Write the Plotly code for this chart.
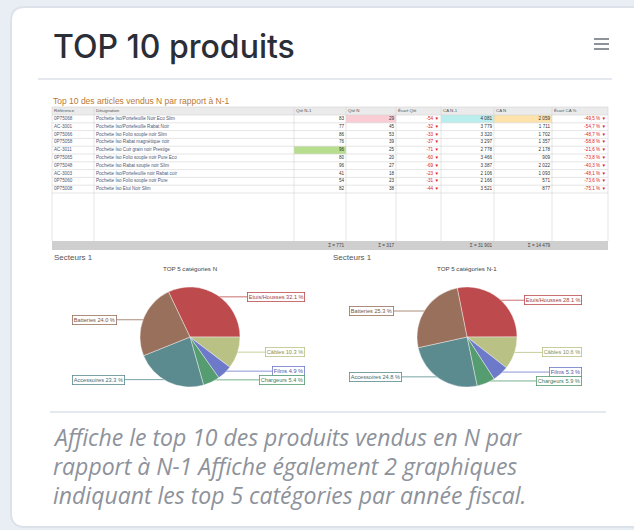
import math
import plotly.graph_objects as go

W, H = 634, 530

# ---------------- data ----------------
col_headers = ["Référence", "Désignation", "Qté N-1", "Qté N", "Écart Qté", "CA N-1", "CA N", "Écart CA %"]
references = ["0P75068", "AC-3001", "0P75066", "0P75058", "AC-3011", "0P75065", "0P75048", "AC-3003", "0P75060", "0P75008"]
designations = [
    "Pochette Iso/Portefeuille Noir Eco Slim",
    "Pochette Iso/Portefeuille Rabat Noir",
    "Pochette Iso Folio souple noir Slim",
    "Pochette Iso Rabat magnétique noir",
    "Pochette Iso Cuir grain noir Prestige",
    "Pochette Iso Folio souple noir Pure Eco",
    "Pochette Iso Rabat souple noir Slim",
    "Pochette Iso/Portefeuille noir Rabat cuir",
    "Pochette Iso Folio souple noir Pure",
    "Pochette Iso Etui Noir Slim",
]
qte_n1 = [83, 77, 86, 76, 96, 80, 96, 41, 54, 82]
qte_n = [29, 45, 53, 39, 25, 20, 27, 18, 23, 38]
ecart_qte = [-54, -32, -33, -37, -71, -60, -69, -23, -31, -44]
ca_n1 = [4081, 3779, 3320, 3297, 2778, 3466, 3387, 2106, 2166, 3521]
ca_n = [2059, 1711, 1702, 1357, 2178, 909, 2022, 1093, 571, 877]
ecart_ca = [-49.5, -54.7, -48.7, -58.8, -21.6, -73.8, -40.3, -48.1, -73.6, -75.1]

categories = ["Etuis/Housses", "Câbles", "Films", "Chargeurs", "Accessoires", "Batteries"]
share_n = [32.1, 10.3, 4.9, 5.4, 23.3, 24.0]
share_n1 = [28.1, 10.6, 5.3, 5.9, 24.8, 25.3]

# ---------------- styles ----------------
slice_colors = ["#bd4b4e", "#b9c184", "#6d79c9", "#559c70", "#5b8a8f", "#98705b"]
label_colors = ["#a53e41", "#8a9150", "#4a56aa", "#3d7c55", "#426e73", "#7a5643"]
page_bg = "#e9edf4"
col_px = [42, 200, 52, 50, 45, 53, 58, 56]
col_align = ["left", "left", "right", "right", "right", "right", "right", "right"]
col_font = ["#4a5a78", "#4a5a78", "#333333", "#333333", "#e0201c", "#333333", "#333333", "#e0201c"]
tbl_left, head_top, head_h, row_h = 52, 107, 8, 7.8
body_bottom, foot_h = 241, 9
FONT = "Liberation Sans"


def fr(v):
    return f"{v:,}".replace(",", " ")


fig = go.Figure()
shapes = []
annotations = []


def line(x0, y0, x1, y1, color, width, layer="above"):
    shapes.append(dict(type="line", xref="x", yref="y", x0=x0, y0=y0, x1=x1, y1=y1,
                       line=dict(color=color, width=width), layer=layer))


def rect(x0, y0, x1, y1, fill, layer="below"):
    shapes.append(dict(type="rect", xref="x", yref="y", x0=x0, y0=y0, x1=x1, y1=y1,
                       fillcolor=fill, line=dict(width=0), layer=layer))


# ---------------- card ----------------
def rounded(x0, y0, x1, y1, r):
    return (f"M {x0 + r},{y0} L {x1 - r},{y0} Q {x1},{y0} {x1},{y0 + r} "
            f"L {x1},{y1 - r} Q {x1},{y1} {x1 - r},{y1} "
            f"L {x0 + r},{y1} Q {x0},{y1} {x0},{y1 - r} "
            f"L {x0},{y0 + r} Q {x0},{y0} {x0 + r},{y0} Z")


shapes.append(dict(type="path", xref="x", yref="y", path=rounded(10, 6, 652, 528, 15),
                   fillcolor="#dde2ea", line=dict(width=0), layer="below"))
shapes.append(dict(type="path", xref="x", yref="y", path=rounded(12, 8, 650, 526, 13),
                   fillcolor="#ffffff", line=dict(width=0), layer="below"))
line(38, 79, 612, 79, "#dde2ea", 1.5, "below")
line(50, 412, 606, 412, "#dde2ea", 1.5, "below")
for hy in (39, 44, 49):
    line(594, hy, 609, hy, "#8d929b", 2)

# ---------------- table ----------------
bounds = [tbl_left]
for w in col_px:
    bounds.append(bounds[-1] + w)
n_rows = len(references)
rows_top = head_top + head_h
row_tops = [rows_top + i * row_h for i in range(n_rows + 1)]

rect(bounds[0], head_top, bounds[-1], rows_top, "#ebebeb")
rect(bounds[0], body_bottom, bounds[-1], body_bottom + foot_h, "#cfcfcf")

highlights = [(2, 4, "#b7dd8f"), (3, 0, "#f9cdd3"), (5, 0, "#baeeee"), (6, 0, "#fde2ac")]
for c, r, colr in highlights:
    rect(bounds[c], row_tops[r], bounds[c + 1], row_tops[r + 1], colr)

for yt in [head_top] + row_tops:
    line(bounds[0], yt, bounds[-1], yt, "#d4d4d4", 0.6, "below")
for b in bounds:
    line(b, head_top, b, body_bottom, "#d4d4d4", 0.6, "below")

cell_values = [
    references,
    designations,
    [str(v) for v in qte_n1],
    [str(v) for v in qte_n],
    [f"{v} ▼" for v in ecart_qte],
    [fr(v) for v in ca_n1],
    [fr(v) for v in ca_n],
    [f"{v:.1f} % ▼".replace(".", ",") for v in ecart_ca],
]
row_mid = [rows_top + (i + 0.5) * row_h for i in range(n_rows)]
for c, vals in enumerate(cell_values):
    left = col_align[c] == "left"
    xs = [bounds[c] + 2 if left else bounds[c + 1] - 2] * n_rows
    fig.add_trace(go.Scatter(
        x=xs, y=row_mid, mode="text", text=vals,
        textposition="middle right" if left else "middle left",
        textfont=dict(size=4.6, color=col_font[c], family=FONT),
        hoverinfo="skip", showlegend=False, cliponaxis=False,
    ))
# header
fig.add_trace(go.Scatter(
    x=[b + 2 for b in bounds[:-1]], y=[head_top + head_h / 2] * len(col_headers),
    mode="text", text=col_headers, textposition="middle right",
    textfont=dict(size=4.4, color="#555555", family=FONT),
    hoverinfo="skip", showlegend=False, cliponaxis=False,
))
# footer sums
footer_vals = ["", "", f"Σ = {fr(sum(qte_n1))}", f"Σ = {fr(sum(qte_n))}", "",
               f"Σ = {fr(sum(ca_n1))}", f"Σ = {fr(sum(ca_n))}", ""]
fig.add_trace(go.Scatter(
    x=[b - 2 for b in bounds[1:]], y=[body_bottom + foot_h / 2] * len(col_headers),
    mode="text", text=footer_vals, textposition="middle left",
    textfont=dict(size=4.6, color="#444444", family=FONT),
    hoverinfo="skip", showlegend=False, cliponaxis=False,
))

annotations.append(dict(xref="x", yref="y", x=51, y=101, showarrow=False,
                        xanchor="left", yanchor="middle",
                        text="Top 10 des articles vendus N par rapport à N-1",
                        font=dict(size=8.5, color="#b97a35", family=FONT)))

# ---------------- pies ----------------
pies = [
    dict(values=share_n, cx=190, cy=337, r=50, rot=-25.5, title="TOP 5 catégories N", sect="Secteurs 1", sx=52),
    dict(values=share_n1, cx=467, cy=337, r=50, rot=-11.3, title="TOP 5 catégories N-1", sect="Secteurs 1", sx=331),
]
for p in pies:
    fig.add_trace(go.Pie(
        labels=categories, values=p["values"], sort=False, direction="clockwise",
        rotation=p["rot"], textinfo="none", hoverinfo="label+percent",
        marker=dict(colors=slice_colors, line=dict(color="#ffffff", width=0.4)),
        domain=dict(x=[(p["cx"] - p["r"]) / W, (p["cx"] + p["r"]) / W],
                    y=[1 - (p["cy"] + p["r"]) / H, 1 - (p["cy"] - p["r"]) / H]),
        showlegend=False,
    ))
    total = sum(p["values"])
    acc = 0.0
    for i, v in enumerate(p["values"]):
        mid = p["rot"] + (acc + v / 2) / total * 360
        acc += v
        th = math.radians(mid)
        ex = p["cx"] + p["r"] * 0.95 * math.sin(th)
        ey = p["cy"] - p["r"] * 0.95 * math.cos(th)
        right = math.sin(th) > 0
        lx = p["cx"] + 115 if right else p["cx"] - 118
        line(ex, ey, lx, ey, slice_colors[i], 0.8, "below")
        annotations.append(dict(
            xref="x", yref="y", x=lx, y=ey, showarrow=False,
            xanchor="right" if right else "left", yanchor="middle",
            text=f"{categories[i]} {v:.1f} %",
            font=dict(size=5.6, color=label_colors[i], family=FONT),
            bgcolor="#ffffff", bordercolor=slice_colors[i], borderwidth=0.8, borderpad=1,
        ))
    annotations.append(dict(xref="x", yref="y", x=p["cx"], y=268, showarrow=False,
                            xanchor="center", yanchor="middle", text=p["title"],
                            font=dict(size=6.2, color="#444444", family=FONT)))
    annotations.append(dict(xref="x", yref="y", x=p["sx"], y=257, showarrow=False,
                            xanchor="left", yanchor="middle", text=p["sect"],
                            font=dict(size=8, color="#555555", family=FONT)))

# ---------------- card texts ----------------
annotations.append(dict(xref="x", yref="y", x=51, y=46, showarrow=False,
                        xanchor="left", yanchor="middle", text="TOP 10 produits",
                        font=dict(size=32, color="#2b2e36", family="Inter", weight=500)))
desc_lines = ["Affiche le top 10 des produits vendus en N par",
              "rapport à N-1 Affiche également 2 graphiques",
              "indiquant les top 5 catégories par année fiscal."]
for k, txt in enumerate(desc_lines):
    annotations.append(dict(xref="x", yref="y", x=51, y=437 + 29 * k, showarrow=False,
                            xanchor="left", yanchor="middle", text=txt,
                            font=dict(size=23, color="#8d929b", family="Open Sans", style="italic")))

fig.update_layout(
    width=W, height=H, margin=dict(l=0, r=0, t=0, b=0),
    paper_bgcolor=page_bg, plot_bgcolor="rgba(0,0,0,0)",
    xaxis=dict(range=[0, W], visible=False, fixedrange=True, domain=[0, 1]),
    yaxis=dict(range=[H, 0], visible=False, fixedrange=True, domain=[0, 1]),
    shapes=shapes, annotations=annotations, showlegend=False,
)

fig.write_html("out.html", config={"displayModeBar": False},
               post_script="document.body.style.margin='0';document.body.style.overflow='hidden';")
